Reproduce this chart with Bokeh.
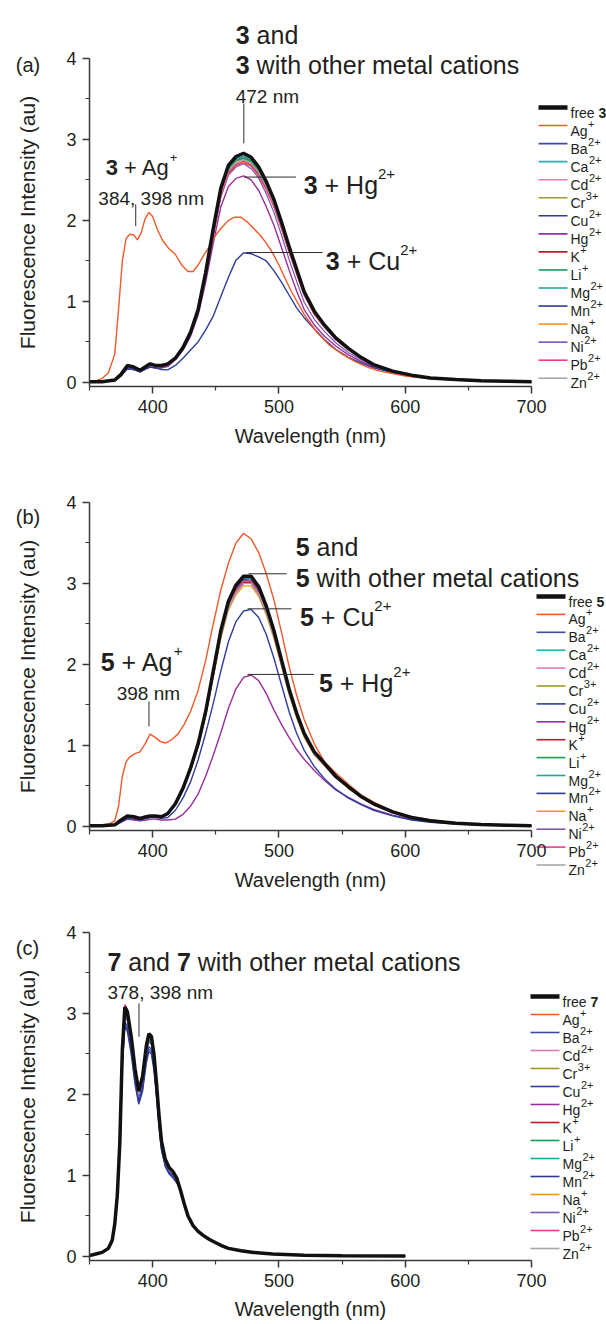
from bokeh.plotting import figure
from bokeh.models import Label, FixedTicker, Range1d, LinearAxis
from bokeh.layouts import column
from bokeh.embed import file_html
from bokeh.resources import INLINE

FONT = "Liberation Sans"
INK = "#231f20"
AXC = "#3a3a3a"

# ---------------- axes ----------------
X_TICKS = [400, 500, 600, 700]
X_MINOR = [350, 450, 550, 650]
Y_TICKS = [0, 1, 2, 3, 4]
Y_MINOR = [0.5, 1.5, 2.5, 3.5]
X_LIMITS = (350, 700)
Y_LIMITS = (-0.05, 4)

# ---------------- series names / colours ----------------
IONS_AB = ["Ag", "Ba", "Ca", "Cd", "Cr", "Cu", "Hg", "K", "Li", "Mg", "Mn", "Na", "Ni", "Pb", "Zn"]
IONS_C = ["Ag", "Ba", "Cd", "Cr", "Cu", "Hg", "K", "Li", "Mg", "Mn", "Na", "Ni", "Pb", "Zn"]
CHARGE = {"Ag": "+", "Ba": "2+", "Ca": "2+", "Cd": "2+", "Cr": "3+", "Cu": "2+", "Hg": "2+",
          "K": "+", "Li": "+", "Mg": "2+", "Mn": "2+", "Na": "+", "Ni": "2+", "Pb": "2+", "Zn": "2+"}
COLORS = {"Ag": "#f15a29", "Ba": "#3a4ba6", "Ca": "#22b3aa", "Cd": "#e07ab8", "Cr": "#9c9a2e",
          "Cu": "#2f3d9e", "Hg": "#9a2e9a", "K": "#b3202a", "Li": "#1a9c53", "Mg": "#1da89c",
          "Mn": "#2b3990", "Na": "#f7941d", "Ni": "#7b55b8", "Pb": "#ec3c86", "Zn": "#a6a6a6"}

# ---------------- wavelength grid for panels (a) and (b), nm ----------------
WL_AB = [350, 360, 370, 375, 380, 385, 390, 395, 398, 402, 407, 412,
         418, 424, 430, 436, 442, 448, 454, 460, 466, 472, 478, 484, 490, 496,
         502, 508, 514, 520, 528, 536, 545, 555, 565, 575,
         590, 605, 620, 640, 660, 680, 700]

# ---------------- panel (a): compound 3 ----------------
A_FREE = [0.01, 0.01, 0.03, 0.10, 0.21, 0.19, 0.15, 0.20, 0.23, 0.21, 0.21, 0.23,
          0.30, 0.43, 0.62, 0.90, 1.36, 1.90, 2.40, 2.68, 2.79, 2.83, 2.78, 2.66, 2.48, 2.26,
          1.98, 1.68, 1.40, 1.12, 0.88, 0.71, 0.55, 0.42, 0.31, 0.22,
          0.14, 0.09, 0.055, 0.035, 0.02, 0.015, 0.01]
A_AG_WL = [350, 355, 360, 365, 370, 373, 376, 379, 382, 385, 388, 391, 394, 397, 400,
           404, 408, 413, 418, 423, 428, 432, 436, 440, 445, 450, 455, 460, 465, 470,
           475, 480, 485, 490, 495, 500, 505, 510, 520, 530, 540, 550, 560, 570, 580,
           600, 620, 650, 700]
A_AG = [0.01, 0.02, 0.05, 0.12, 0.35, 0.90, 1.50, 1.78, 1.83, 1.82, 1.76, 1.85, 2.02, 2.10, 2.05,
        1.88, 1.75, 1.65, 1.58, 1.45, 1.37, 1.37, 1.45, 1.56, 1.68, 1.82, 1.92, 2.00, 2.04, 2.04,
        1.98, 1.90, 1.82, 1.72, 1.60, 1.45, 1.28, 1.12, 0.84, 0.62, 0.46, 0.35, 0.26, 0.19, 0.14,
        0.08, 0.045, 0.02, 0.01]
A_CU = [0.01, 0.01, 0.03, 0.09, 0.17, 0.16, 0.13, 0.17, 0.19, 0.18, 0.16, 0.155,
        0.21, 0.30, 0.40, 0.50, 0.65, 0.82, 1.06, 1.30, 1.51, 1.60, 1.59, 1.55, 1.50, 1.38,
        1.24, 1.08, 0.92, 0.80, 0.66, 0.53, 0.41, 0.31, 0.24, 0.18,
        0.12, 0.08, 0.05, 0.03, 0.02, 0.012, 0.01]
A_HEAD = {1: [0.01, 0.01, 0.03, 0.10, 0.21, 0.19, 0.15, 0.20, 0.23, 0.21, 0.21, 0.23],
          2: [0.01, 0.01, 0.03, 0.09, 0.19, 0.17, 0.14, 0.18, 0.21, 0.19, 0.19, 0.21],
          3: [0.01, 0.01, 0.02, 0.08, 0.17, 0.16, 0.13, 0.17, 0.19, 0.18, 0.18, 0.20]}
A_TAIL = [0.14, 0.09, 0.055, 0.035, 0.02, 0.015, 0.01]
A_MID = {
    "Ba": [0.30, 0.42, 0.61, 0.89, 1.34, 1.87, 2.36, 2.64, 2.75, 2.79, 2.74, 2.62, 2.44, 2.23, 1.95, 1.65, 1.38, 1.10, 0.87, 0.70, 0.54, 0.41, 0.31, 0.22],
    "Ca": [0.29, 0.42, 0.60, 0.88, 1.33, 1.85, 2.34, 2.61, 2.72, 2.76, 2.71, 2.59, 2.42, 2.20, 1.93, 1.64, 1.37, 1.09, 0.86, 0.69, 0.54, 0.41, 0.30, 0.21],
    "Cd": [0.29, 0.42, 0.60, 0.87, 1.32, 1.84, 2.33, 2.60, 2.71, 2.75, 2.70, 2.58, 2.41, 2.19, 1.92, 1.63, 1.36, 1.09, 0.85, 0.69, 0.53, 0.41, 0.30, 0.21],
    "Cr": [0.29, 0.42, 0.61, 0.88, 1.33, 1.86, 2.35, 2.63, 2.73, 2.77, 2.72, 2.61, 2.43, 2.21, 1.94, 1.65, 1.37, 1.10, 0.86, 0.70, 0.54, 0.41, 0.30, 0.22],
    "Hg": [0.28, 0.40, 0.57, 0.83, 1.24, 1.72, 2.17, 2.42, 2.52, 2.55, 2.50, 2.37, 2.17, 1.94, 1.67, 1.39, 1.13, 0.90, 0.71, 0.57, 0.45, 0.34, 0.26, 0.19],
    "K":  [0.29, 0.41, 0.60, 0.87, 1.31, 1.83, 2.32, 2.59, 2.69, 2.73, 2.68, 2.57, 2.39, 2.18, 1.91, 1.62, 1.35, 1.08, 0.85, 0.69, 0.53, 0.41, 0.30, 0.21],
    "Li": [0.30, 0.42, 0.60, 0.88, 1.34, 1.86, 2.35, 2.62, 2.74, 2.77, 2.73, 2.60, 2.43, 2.22, 1.94, 1.64, 1.37, 1.10, 0.86, 0.70, 0.54, 0.41, 0.30, 0.22],
    "Mg": [0.30, 0.43, 0.61, 0.89, 1.35, 1.88, 2.38, 2.65, 2.76, 2.80, 2.75, 2.63, 2.46, 2.24, 1.96, 1.66, 1.39, 1.11, 0.87, 0.70, 0.54, 0.42, 0.31, 0.22],
    "Mn": [0.30, 0.43, 0.62, 0.90, 1.35, 1.89, 2.39, 2.67, 2.78, 2.82, 2.77, 2.65, 2.47, 2.25, 1.97, 1.67, 1.39, 1.11, 0.88, 0.71, 0.55, 0.42, 0.31, 0.22],
    "Na": [0.29, 0.41, 0.60, 0.86, 1.31, 1.82, 2.30, 2.57, 2.68, 2.72, 2.67, 2.55, 2.38, 2.17, 1.90, 1.61, 1.34, 1.08, 0.84, 0.68, 0.53, 0.40, 0.30, 0.21],
    "Ni": [0.29, 0.41, 0.59, 0.86, 1.30, 1.81, 2.29, 2.56, 2.66, 2.70, 2.64, 2.52, 2.33, 2.10, 1.82, 1.52, 1.25, 0.99, 0.78, 0.63, 0.49, 0.37, 0.28, 0.20],
    "Pb": [0.29, 0.41, 0.60, 0.86, 1.31, 1.82, 2.30, 2.57, 2.68, 2.71, 2.67, 2.55, 2.38, 2.17, 1.90, 1.61, 1.34, 1.08, 0.84, 0.68, 0.53, 0.40, 0.30, 0.21],
    "Zn": [0.29, 0.42, 0.60, 0.88, 1.33, 1.85, 2.34, 2.61, 2.72, 2.75, 2.71, 2.59, 2.42, 2.20, 1.93, 1.64, 1.37, 1.09, 0.86, 0.69, 0.54, 0.41, 0.30, 0.21],
}
A_HEAD_OF = {"Ba": 1, "Ca": 2, "Cd": 2, "Cr": 1, "Hg": 3, "K": 2, "Li": 1, "Mg": 1,
             "Mn": 1, "Na": 2, "Ni": 3, "Pb": 2, "Zn": 2}

# ---------------- panel (b): compound 5 ----------------
B_FREE = [0.01, 0.01, 0.02, 0.08, 0.13, 0.12, 0.10, 0.12, 0.13, 0.13, 0.12, 0.16,
          0.28, 0.47, 0.72, 1.02, 1.42, 1.92, 2.42, 2.78, 2.98, 3.09, 3.09, 2.96, 2.72, 2.42,
          2.06, 1.70, 1.40, 1.15, 0.92, 0.78, 0.62, 0.49, 0.37, 0.28,
          0.18, 0.11, 0.07, 0.04, 0.025, 0.015, 0.01]
B_AG_WL = [350, 360, 365, 370, 373, 376, 379, 382, 386, 390, 394, 398, 402, 406, 410,
           415, 420, 425, 430, 436, 442, 448, 454, 460, 466, 472, 478, 484, 490, 496,
           502, 508, 514, 520, 528, 536, 545, 555, 565, 575, 590, 605, 620, 640, 660, 680, 700]
B_AG = [0.01, 0.02, 0.03, 0.07, 0.25, 0.62, 0.80, 0.86, 0.90, 0.92, 1.02, 1.14, 1.10, 1.05, 1.03,
        1.07, 1.14, 1.26, 1.42, 1.68, 2.05, 2.50, 2.92, 3.25, 3.50, 3.62, 3.55, 3.38, 3.12, 2.80,
        2.40, 1.98, 1.62, 1.32, 1.02, 0.80, 0.66, 0.52, 0.39, 0.30, 0.19, 0.12, 0.08, 0.045,
        0.025, 0.015, 0.01]
B_HEAD = {1: [0.01, 0.01, 0.02, 0.08, 0.13, 0.12, 0.10, 0.12, 0.13, 0.13, 0.12, 0.16],
          2: [0.01, 0.01, 0.02, 0.07, 0.12, 0.11, 0.09, 0.11, 0.12, 0.12, 0.11, 0.15],
          3: [0.01, 0.01, 0.02, 0.06, 0.10, 0.09, 0.08, 0.10, 0.11, 0.11, 0.10, 0.11],
          4: [0.005, 0.005, 0.01, 0.05, 0.09, 0.08, 0.07, 0.08, 0.09, 0.09, 0.08, 0.08]}
B_TAIL = {1: [0.18, 0.11, 0.07, 0.04, 0.025, 0.015, 0.01],
          2: [0.13, 0.08, 0.05, 0.03, 0.02, 0.012, 0.01],
          3: [0.14, 0.09, 0.06, 0.035, 0.02, 0.012, 0.01]}
B_MID = {
    "Ba": [0.28, 0.47, 0.71, 1.01, 1.41, 1.90, 2.40, 2.75, 2.95, 3.06, 3.06, 2.93, 2.69, 2.40, 2.04, 1.68, 1.39, 1.14, 0.91, 0.77, 0.61, 0.49, 0.37, 0.28],
    "Ca": [0.28, 0.47, 0.72, 1.01, 1.41, 1.91, 2.41, 2.77, 2.97, 3.07, 3.07, 2.95, 2.71, 2.41, 2.05, 1.69, 1.39, 1.14, 0.92, 0.78, 0.62, 0.49, 0.37, 0.28],
    "Cd": [0.27, 0.46, 0.71, 1.00, 1.39, 1.88, 2.37, 2.72, 2.92, 3.03, 3.03, 2.90, 2.67, 2.37, 2.02, 1.67, 1.37, 1.13, 0.90, 0.76, 0.61, 0.48, 0.36, 0.27],
    "Cr": [0.27, 0.46, 0.70, 0.99, 1.38, 1.86, 2.35, 2.70, 2.89, 3.00, 3.00, 2.87, 2.64, 2.35, 2.00, 1.65, 1.36, 1.12, 0.89, 0.76, 0.60, 0.48, 0.36, 0.27],
    "Cu": [0.20, 0.35, 0.55, 0.82, 1.15, 1.52, 1.92, 2.28, 2.53, 2.66, 2.68, 2.58, 2.37, 2.08, 1.75, 1.42, 1.15, 0.94, 0.74, 0.59, 0.46, 0.35, 0.27, 0.20],
    "Hg": [0.09, 0.15, 0.25, 0.40, 0.62, 0.88, 1.16, 1.46, 1.70, 1.84, 1.87, 1.80, 1.64, 1.44, 1.26, 1.10, 0.95, 0.83, 0.69, 0.57, 0.45, 0.36, 0.28, 0.21],
    "K":  [0.27, 0.46, 0.70, 1.00, 1.38, 1.87, 2.36, 2.71, 2.91, 3.01, 3.01, 2.88, 2.65, 2.36, 2.01, 1.66, 1.37, 1.12, 0.90, 0.76, 0.60, 0.48, 0.36, 0.27],
    "Li": [0.28, 0.46, 0.71, 1.00, 1.40, 1.88, 2.38, 2.73, 2.93, 3.04, 3.03, 2.91, 2.67, 2.38, 2.02, 1.67, 1.38, 1.13, 0.90, 0.77, 0.61, 0.48, 0.36, 0.27],
    "Mg": [0.28, 0.47, 0.72, 1.01, 1.41, 1.91, 2.41, 2.77, 2.97, 3.07, 3.07, 2.95, 2.71, 2.41, 2.05, 1.69, 1.39, 1.14, 0.92, 0.78, 0.62, 0.49, 0.37, 0.28],
    "Mn": [0.28, 0.47, 0.71, 1.00, 1.40, 1.89, 2.39, 2.74, 2.94, 3.05, 3.04, 2.92, 2.68, 2.39, 2.03, 1.68, 1.38, 1.14, 0.91, 0.77, 0.61, 0.48, 0.37, 0.28],
    "Na": [0.27, 0.45, 0.69, 0.98, 1.36, 1.84, 2.32, 2.67, 2.86, 2.97, 2.97, 2.84, 2.61, 2.32, 1.98, 1.63, 1.34, 1.10, 0.88, 0.75, 0.60, 0.47, 0.36, 0.27],
    "Ni": [0.27, 0.46, 0.70, 0.99, 1.38, 1.86, 2.35, 2.70, 2.89, 3.00, 3.00, 2.87, 2.64, 2.35, 2.00, 1.65, 1.36, 1.12, 0.89, 0.76, 0.60, 0.48, 0.36, 0.27],
    "Pb": [0.27, 0.46, 0.71, 1.00, 1.39, 1.88, 2.37, 2.72, 2.92, 3.03, 3.03, 2.90, 2.67, 2.37, 2.02, 1.67, 1.37, 1.13, 0.90, 0.76, 0.61, 0.48, 0.36, 0.27],
    "Zn": [0.27, 0.46, 0.70, 0.99, 1.38, 1.86, 2.35, 2.70, 2.89, 3.00, 3.00, 2.87, 2.64, 2.35, 2.00, 1.65, 1.36, 1.12, 0.89, 0.76, 0.60, 0.48, 0.36, 0.27],
}
B_HEAD_OF = {"Ba": 1, "Ca": 1, "Cd": 2, "Cr": 2, "Cu": 3, "Hg": 4, "K": 2, "Li": 1, "Mg": 1,
             "Mn": 1, "Na": 2, "Ni": 2, "Pb": 2, "Zn": 2}
B_TAIL_OF = {"Cu": 2, "Hg": 3}

# ---------------- panel (c): compound 7 ----------------
WL_C = [350, 355, 360, 365, 368, 370,
        372, 374, 376, 378, 380, 383, 386, 389, 392, 395, 397, 399, 401, 403, 405, 407, 410, 413, 416, 419,
        422, 425, 428, 432, 436, 440, 445, 450, 455, 460, 470, 480, 495, 520, 550, 600]
C_FREE = [0.01, 0.03, 0.05, 0.10, 0.20, 0.40,
          0.75, 1.40, 2.55, 3.08, 3.02, 2.72, 2.32, 2.04, 2.22, 2.60, 2.75, 2.72, 2.50, 2.15, 1.75, 1.42, 1.20, 1.10, 1.05, 0.97,
          0.82, 0.65, 0.50, 0.38, 0.31, 0.26, 0.21, 0.17, 0.13, 0.10, 0.07, 0.05, 0.03, 0.015, 0.008, 0.005]
C_HEAD = [0.01, 0.03, 0.05, 0.10, 0.20, 0.40]
C_TAIL = [0.82, 0.65, 0.50, 0.38, 0.31, 0.26, 0.21, 0.17, 0.13, 0.10, 0.07, 0.05, 0.03, 0.015, 0.008, 0.005]
C_MID = {
    "Ag": [0.74, 1.38, 2.50, 3.02, 2.96, 2.67, 2.27, 2.00, 2.18, 2.55, 2.70, 2.67, 2.45, 2.11, 1.72, 1.39, 1.18, 1.08, 1.03, 0.95],
    "Ba": [0.72, 1.32, 2.38, 2.86, 2.81, 2.53, 2.16, 1.90, 2.06, 2.42, 2.56, 2.53, 2.33, 2.00, 1.63, 1.32, 1.12, 1.03, 0.98, 0.92],
    "Cd": [0.75, 1.39, 2.52, 3.05, 2.99, 2.69, 2.30, 2.02, 2.20, 2.57, 2.72, 2.69, 2.48, 2.13, 1.73, 1.41, 1.19, 1.09, 1.04, 0.96],
    "Cr": [0.74, 1.38, 2.49, 3.00, 2.94, 2.65, 2.26, 1.99, 2.16, 2.54, 2.68, 2.65, 2.44, 2.10, 1.71, 1.39, 1.17, 1.07, 1.02, 0.95],
    "Cu": [0.71, 1.30, 2.35, 2.84, 2.78, 2.50, 2.13, 1.88, 2.04, 2.39, 2.53, 2.50, 2.30, 1.98, 1.61, 1.31, 1.11, 1.02, 0.97, 0.91],
    "Hg": [0.74, 1.37, 2.48, 2.99, 2.93, 2.64, 2.25, 1.98, 2.15, 2.52, 2.67, 2.64, 2.43, 2.09, 1.70, 1.38, 1.17, 1.07, 1.02, 0.95],
    "K":  [0.75, 1.40, 2.56, 3.10, 3.04, 2.73, 2.33, 2.05, 2.22, 2.60, 2.74, 2.71, 2.49, 2.14, 1.74, 1.41, 1.19, 1.09, 1.04, 0.96],
    "Li": [0.74, 1.38, 2.49, 3.01, 2.95, 2.65, 2.26, 1.99, 2.17, 2.54, 2.68, 2.65, 2.44, 2.10, 1.71, 1.39, 1.17, 1.07, 1.02, 0.95],
    "Mg": [0.74, 1.37, 2.47, 2.98, 2.92, 2.63, 2.25, 1.98, 2.15, 2.52, 2.66, 2.63, 2.42, 2.08, 1.70, 1.38, 1.16, 1.07, 1.02, 0.94],
    "Mn": [0.72, 1.33, 2.40, 2.90, 2.84, 2.56, 2.18, 1.92, 2.09, 2.44, 2.59, 2.56, 2.35, 2.02, 1.65, 1.34, 1.13, 1.04, 0.99, 0.92],
    "Na": [0.75, 1.39, 2.51, 3.03, 2.97, 2.68, 2.29, 2.01, 2.19, 2.56, 2.71, 2.68, 2.46, 2.12, 1.72, 1.40, 1.18, 1.08, 1.03, 0.96],
    "Ni": [0.73, 1.36, 2.46, 2.97, 2.91, 2.62, 2.24, 1.97, 2.14, 2.51, 2.65, 2.62, 2.41, 2.07, 1.69, 1.37, 1.16, 1.06, 1.01, 0.94],
    "Pb": [0.75, 1.40, 2.56, 3.11, 3.05, 2.74, 2.33, 2.05, 2.23, 2.61, 2.75, 2.72, 2.50, 2.15, 1.75, 1.42, 1.20, 1.10, 1.05, 0.97],
    "Zn": [0.74, 1.38, 2.50, 3.02, 2.96, 2.67, 2.27, 2.00, 2.18, 2.55, 2.70, 2.67, 2.45, 2.11, 1.72, 1.39, 1.18, 1.08, 1.03, 0.95],
}

# ---------------- annotations (x in nm, y in au, text, px size, bold, dx px, dy px) ----------------
ANN_A = [(465.8, 4.284, "3", 25, True, 0, 0), (465.8, 4.284, "and", 25, False, 20.85, 0),
         (465.8, 3.914, "3", 25, True, 0, 0), (465.8, 3.914, "with other metal cations", 25, False, 20.85, 0),
         (465.8, 3.531, "472 nm", 19, False, 0, 0),
         (519.6, 2.434, "3", 25, True, 0, 0), (519.6, 2.434, "+ Hg", 25, False, 20.85, 0),
         (519.6, 2.434, "2+", 15, False, 74.35, 11),
         (537.1, 1.497, "3", 25, True, 0, 0), (537.1, 1.497, "+ Cu", 25, False, 20.85, 0),
         (537.1, 1.497, "2+", 15, False, 74.35, 11),
         (362.8, 2.656, "3", 22, True, 0, 0), (362.8, 2.656, "+ Ag", 22, False, 18.35, 0),
         (362.8, 2.656, "+", 13, False, 64.2, 10),
         (357.0, 2.274, "384, 398 nm", 19, False, 0, 0),
         (291.6, 3.914, "(a)", 20, False, 0, 0)]
LEAD_A = [(472.2, 3.445, 472.2, 2.952), (472.5, 2.536, 513.5, 2.536),
          (473.7, 1.604, 534.6, 1.604), (386.6, 2.20, 386.6, 1.93)]

ANN_B = [(513.3, 3.448, "5", 25, True, 0, 0), (513.3, 3.448, "and", 25, False, 20.85, 0),
         (513.3, 3.070, "5", 25, True, 0, 0), (513.3, 3.070, "with other metal cations", 25, False, 20.85, 0),
         (516.7, 2.584, "5", 25, True, 0, 0), (516.7, 2.584, "+ Cu", 25, False, 20.85, 0),
         (516.7, 2.584, "2+", 15, False, 74.35, 11),
         (531.7, 1.769, "5", 25, True, 0, 0), (531.7, 1.769, "+ Hg", 25, False, 20.85, 0),
         (531.7, 1.769, "2+", 15, False, 74.35, 11),
         (358.9, 2.028, "5", 25, True, 0, 0), (358.9, 2.028, "+ Ag", 25, False, 20.85, 0),
         (358.9, 2.028, "+", 15, False, 72.98, 11),
         (371.5, 1.638, "398 nm", 19, False, 0, 0),
         (291.6, 3.815, "(b)", 20, False, 0, 0)]
LEAD_B = [(476.0, 3.12, 506.1, 3.12), (475.2, 2.687, 509.9, 2.687),
          (475.2, 1.877, 527.8, 1.877), (397.1, 1.543, 397.1, 1.235)]

ANN_C = [(364.2, 3.632, "7", 25, True, 0, 0), (364.2, 3.632, "and", 25, False, 20.85, 0),
         (364.2, 3.632, "7", 25, True, 69.5, 0),
         (364.2, 3.632, "with other metal cations", 25, False, 90.35, 0),
         (364.2, 3.26, "378, 398 nm", 19, False, 0, 0),
         (291.6, 3.814, "(c)", 20, False, 0, 0)]
LEAD_C = [(389.2, 3.124, 389.2, 2.712)]

# ---------------- layout (pixels) ----------------
FIG_W = 606
FRAME_W = 442
FRAME_H = 328
LEFT_PAD = 89
RIGHT_PAD = FIG_W - LEFT_PAD - FRAME_W
KX = FRAME_W / (X_LIMITS[1] - X_LIMITS[0])
KY = FRAME_H / (Y_LIMITS[1] - Y_LIMITS[0])

# legend placement: glyph start x, first-row centre y (figure px), row pitch
LEG_A = (538, 107, 18.05)
LEG_B = (536, 126, 17.9)
LEG_C = (530, 91, 18.0)

# approximate Arial advance widths (em) for legend text layout
ADV = {"A": .667, "B": .667, "C": .722, "H": .722, "K": .667, "L": .556, "M": .833, "N": .722,
       "P": .667, "Z": .611, "a": .556, "b": .556, "d": .556, "e": .556, "f": .278, "g": .556,
       "i": .222, "n": .556, "r": .333, "u": .556, " ": .278}


def text_w(s, size):
    return sum(ADV.get(c, 0.556) for c in s) * size


class Panel:
    def __init__(self, height, top, tick_standoff, label_standoff):
        self.h = height
        self.top = top
        x0 = X_LIMITS[0] - LEFT_PAD / KX
        x1 = X_LIMITS[1] + RIGHT_PAD / KX
        y1 = Y_LIMITS[1] + top / KY
        y0 = y1 - height / KY
        p = figure(width=FIG_W, height=height, x_range=Range1d(x0, x1), y_range=Range1d(y0, y1),
                   x_axis_type=None, y_axis_type=None, min_border=0,
                   output_backend="svg", toolbar_location=None)
        p.outline_line_color = None
        p.background_fill_color = "white"
        p.border_fill_color = "white"
        xa = LinearAxis(fixed_location=Y_LIMITS[0], bounds=X_LIMITS, axis_label="Wavelength (nm)")
        ya = LinearAxis(fixed_location=X_LIMITS[0], bounds=Y_LIMITS,
                        axis_label="Fluorescence Intensity (au)")
        xa.ticker = FixedTicker(ticks=X_TICKS, minor_ticks=X_MINOR)
        ya.ticker = FixedTicker(ticks=Y_TICKS, minor_ticks=Y_MINOR)
        for ax in (xa, ya):
            ax.axis_line_color = AXC
            ax.axis_line_width = 1.5
            ax.major_tick_line_color = AXC
            ax.major_tick_line_width = 1.5
            ax.minor_tick_line_color = AXC
            ax.minor_tick_line_width = 1.2
            ax.major_tick_in = 0
            ax.major_tick_out = 7
            ax.minor_tick_in = 0
            ax.minor_tick_out = 4
            ax.major_label_text_font = FONT
            ax.major_label_text_font_size = "18px"
            ax.major_label_text_color = INK
            ax.axis_label_text_font = FONT
            ax.axis_label_text_font_style = "normal"
            ax.axis_label_text_color = INK
        xa.axis_label_text_font_size = "20px"
        ya.axis_label_text_font_size = "21px"
        xa.major_label_standoff = tick_standoff
        xa.axis_label_standoff = label_standoff
        ya.major_label_standoff = 6
        ya.axis_label_standoff = 24
        p.add_layout(xa, "below")
        p.add_layout(ya, "left")
        self.p = p

    # pixel (from figure top-left) -> data
    def dx(self, px):
        return X_LIMITS[0] + (px - LEFT_PAD) / KX

    def dy(self, py):
        return Y_LIMITS[1] - (py - self.top) / KY

    def label(self, x, y, s, size, bold=False, xo=0, yo=0):
        self.p.add_layout(Label(x=x, y=y, text=s, x_offset=xo, y_offset=yo,
                                text_font=FONT, text_font_size=f"{size}px",
                                text_font_style="bold" if bold else "normal",
                                text_color=INK, text_align="left", text_baseline="alphabetic"))

    def texts(self, anns, leads):
        self.p.segment(x0=[l[0] for l in leads], y0=[l[1] for l in leads],
                       x1=[l[2] for l in leads], y1=[l[3] for l in leads],
                       line_color="#2b2b2b", line_width=1)
        for (x, y, s, size, bold, xo, yo) in anns:
            self.label(x, y, s, size, bold, xo, yo)

    def legend(self, geo, free_digit, ions):
        gx, first, pitch = geo
        rows = [("free ", free_digit, "", "#111111", 4.5)] + \
               [(ion, "", CHARGE[ion], COLORS[ion], 1.6) for ion in ions]
        x0s, x1s, ys, cols, wids = [], [], [], [], []
        for i, (base, bold_part, sup, col, lw) in enumerate(rows):
            cy = first + pitch * i
            x0s.append(self.dx(gx))
            x1s.append(self.dx(gx + 29))
            ys.append(self.dy(cy))
            cols.append(col)
            wids.append(lw)
            tx = self.dx(gx + 32)
            self.label(tx, self.dy(cy), base, 14, yo=-5)
            w = text_w(base, 14)
            if bold_part:
                self.label(tx, self.dy(cy), bold_part, 14, bold=True, xo=w, yo=-5)
            if sup:
                self.label(tx, self.dy(cy), sup, 11, xo=w + 0.5, yo=2)
        self.p.segment(x0=x0s, y0=ys, x1=x1s, y1=ys, line_color=cols, line_width=wids)

    def curves(self, series, draw_order, free_xy):
        for ion in draw_order:
            x, y = series[ion]
            if len(x) != len(y):
                raise ValueError(f"length mismatch for {ion}")
            lw = 1.4 if ion in ("Ag", "Cu", "Hg") else 1.2
            self.p.line(x, y, line_color=COLORS[ion], line_width=lw)
        fx, fy = free_xy
        if len(fx) != len(fy):
            raise ValueError("length mismatch for free")
        self.p.line(fx, fy, line_color="#111111", line_width=3.5)


# ---------------- panel (a) ----------------
PA = Panel(470, 58, 6, 9)
series_a = {ion: (WL_AB, A_HEAD[A_HEAD_OF[ion]] + A_MID[ion] + A_TAIL) for ion in A_MID}
series_a["Ag"] = (A_AG_WL, A_AG)
series_a["Cu"] = (WL_AB, A_CU)
order_a = ["Ba", "Ca", "Cd", "Cr", "K", "Li", "Mg", "Mn", "Na", "Ni", "Pb", "Zn", "Hg", "Cu", "Ag"]
PA.curves(series_a, order_a, (WL_AB, A_FREE))
PA.texts(ANN_A, LEAD_A)
PA.legend(LEG_A, "3", IONS_AB)

# ---------------- panel (b) ----------------
PB = Panel(435, 32, 6, 9)
series_b = {ion: (WL_AB, B_HEAD[B_HEAD_OF[ion]] + B_MID[ion] + B_TAIL[B_TAIL_OF.get(ion, 1)])
            for ion in B_MID}
series_b["Ag"] = (B_AG_WL, B_AG)
order_b = ["Ba", "Ca", "Cd", "Cr", "K", "Li", "Mg", "Mn", "Na", "Ni", "Pb", "Zn", "Hg", "Cu", "Ag"]
PB.curves(series_b, order_b, (WL_AB, B_FREE))
PB.texts(ANN_B, LEAD_B)
PB.legend(LEG_B, "5", IONS_AB)

# ---------------- panel (c) ----------------
PC = Panel(419, 27, 6, 8)
series_c = {ion: (WL_C, C_HEAD + C_MID[ion] + C_TAIL) for ion in C_MID}
order_c = ["Ag", "Ba", "Cd", "Cr", "Cu", "Hg", "Li", "Mg", "Mn", "Na", "Ni", "Zn", "K", "Pb"]
PC.curves(series_c, order_c, (WL_C, C_FREE))
PC.texts(ANN_C, LEAD_C)
PC.legend(LEG_C, "7", IONS_C)

layout = column(PA.p, PB.p, PC.p)
open("out.html", "w").write(file_html(layout, INLINE))
